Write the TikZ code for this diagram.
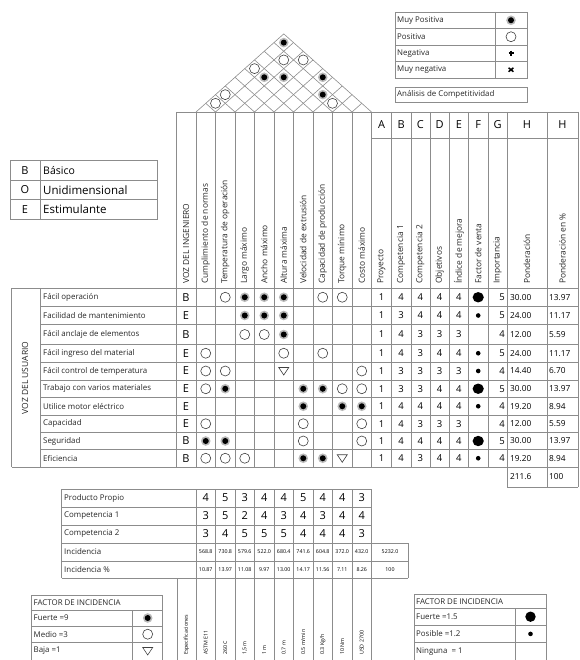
\documentclass[tikz,border=0pt]{standalone}
\usepackage{fontspec}
\setmainfont{Open Sans}
\begin{document}
\begin{tikzpicture}[x=1pt,y=-1pt]
\tikzset{
  ln/.style={draw=gray!90, line width=0.6pt},
  lab/.style={inner sep=0pt, font=\fontsize{7.9}{9}\selectfont, text=black!85},
  hlab/.style={lab, rotate=90, anchor=west, font=\fontsize{8.4}{9}\selectfont},
  tbig/.style={inner sep=0pt, font=\fontsize{11}{12}\selectfont},
  tnum/.style={inner sep=0pt, font=\fontsize{9.5}{11}\selectfont},
  tmid/.style={inner sep=0pt, font=\fontsize{8.3}{10}\selectfont},
  ttiny/.style={inner sep=0pt, font=\fontsize{5.3}{6}\selectfont},
  strong/.pic={\fill[gray!55] (0,0) circle (4.8pt); \fill[black] (0,0) circle (3pt);},
  medium/.pic={\draw[gray!50!black, line width=0.6pt] (0,0) circle (5pt);},
  weak/.pic={\draw[gray!50!black, line width=0.6pt] (-5,-3.5) -- (5,-3.5) -- (0,4) -- cycle;},
}
\useasboundingbox (0,0) rectangle (579,660);

% ---------- roof ----------
\foreach \k in {0,...,9} {
  \pgfmathsetmacro\xk{196+19.5*\k}
  \pgfmathsetmacro\xr{(\xk+371.5)/2}
  \pgfmathsetmacro\yr{112-0.89*(371.5-\xk)/2}
  \pgfmathsetmacro\xl{(196+\xk)/2}
  \pgfmathsetmacro\yl{112-0.89*(\xk-196)/2}
  \draw[ln] (\xl,\yl) -- (\xk,112) -- (\xr,\yr);
}
\foreach \i/\j/\t in {1/9/strong,2/8/medium,3/9/medium,1/6/medium,2/6/strong,3/7/strong,5/9/strong,6/8/strong,7/8/medium,1/3/medium,1/2/medium} {
  \pgfmathsetmacro\xx{196+19.5*((\i+\j)/2-0.5)}
  \pgfmathsetmacro\yy{112-(\j-\i)*0.89*19.5/2}
  \pic at (\xx,\yy) {\t};
}

% ---------- top right legend ----------
\draw[ln] (395,12) rectangle (527,78);
\draw[ln] (395,28.5) -- (527,28.5) (395,45) -- (527,45) (395,61.5) -- (527,61.5) (495,12) -- (495,78);
\node[lab, anchor=west] (lg1) at (397,20.25) {Muy Positiva};
\node[lab, anchor=west] (lg2) at (397,36.75) {Positiva};
\node[lab, anchor=west] (lg3) at (397,53.25) {Negativa};
\node[lab, anchor=west] (lg4) at (397,69.75) {Muy negativa};
\pic at (511,20.25) {strong};
\pic at (511,36.75) {medium};
\draw[line width=1.6pt] (508.5,53.25) -- (513.5,53.25) (511,50.75) -- (511,55.75);
\draw[line width=1.5pt] (508.6,67.8) -- (513.4,71.7) (508.6,71.7) -- (513.4,67.8);
\draw[ln] (395,87) rectangle (527,102);
\node[lab, anchor=west] (lg5) at (397,94.5) {Análisis de Competitividad};

% ---------- left legend ----------
\draw[ln] (10,160.7) rectangle (157,219);
\draw[ln] (10,180) -- (157,180) (10,199.3) -- (157,199.3) (40,160.7) -- (40,219);
\node[tbig] (kb) at (25,170.3) {B};
\node[tbig] (ko) at (25,189.7) {O};
\node[tbig] (ke) at (25,209.1) {E};
\node[tbig, anchor=west, font=\fontsize{10.5}{12}\selectfont] (kbt) at (43,170.3) {Básico};
\node[tbig, anchor=west, font=\fontsize{11.5}{12}\selectfont] (kot) at (43,189.7) {Unidimensional};
\node[tbig, anchor=west, font=\fontsize{11.5}{12}\selectfont] (ket) at (43,209.1) {Estimulante};

% ---------- grid of the house ----------
\draw[ln] (176,112) -- (578.3,112);
\draw[ln] (371.5,138) -- (578.3,138);
\foreach \x in {176,196,215.5,235,254.5,274,293.5,313,332.5,352,371.5,391.5,410.8,430,449.3,468.5,488}
  \draw[ln] (\x,112) -- (\x,467);
\foreach \x in {507.3,546.8,578.3}
  \draw[ln] (\x,112) -- (\x,487);
\draw[ln] (507.3,487) -- (578.3,487);
\draw[ln] (11.7,288) -- (578.3,288);
\draw[ln] (11.7,467) -- (578.3,467);
\foreach \y in {306.5,324.5,344.5,362,380,397.5,415,432.5,449.5}
  \draw[ln] (40,\y) -- (578.3,\y);
\draw[ln] (11.7,288) -- (11.7,467);
\draw[ln] (40,288) -- (40,467);

% ---------- header labels ----------
\node[hlab] (hv) at (186,284) {VOZ DEL INGENIERO};
\foreach \t [count=\i] in {Cumplimiento de normas,Temperatura de operación,Largo máximo,Ancho máximo,Altura máxima,Velocidad de extrusión,Capacidad de producción,Torque mínimo,Costo máximo} {
  \pgfmathsetmacro\xx{196+19.5*(\i-0.5)}
  \node[hlab] (he\i) at (\xx,284) {\t};
}
\foreach \x/\l/\t [count=\i] in {381.5/A/Proyecto,401.1/B/Competencia 1,420.4/C/Competencia 2,439.6/D/Objetivos,458.9/E/Índice de mejora,478.2/F/Factor de venta,497.6/G/Importancia,527/H/Ponderación,562.5/H/Ponderación en \%} {
  \node[tbig] (hl\i) at (\x,125) {\l};
  \node[hlab] (hr\i) at (\x,284) {\t};
}

% ---------- voice of customer ----------
\node[lab, rotate=90, font=\fontsize{8.5}{10}\selectfont] (vu) at (25,378) {VOZ DEL USUARIO};
\foreach \yc/\lab/\k/\a/\b/\c/\d/\e/\g/\h/\hp [count=\i] in {
297.25/Fácil operación/B/1/4/4/4/4/5/30.00/13.97,
315.5/Facilidad de mantenimiento/E/1/3/4/4/4/5/24.00/11.17,
334.5/Fácil anclaje de elementos/B/1/4/3/3/3/4/12.00/5.59,
353.25/Fácil ingreso del material/E/1/4/3/4/4/5/24.00/11.17,
371/Fácil control de temperatura/E/1/3/3/3/3/4/14.40/6.70,
388.75/Trabajo con varios materiales/E/1/3/3/4/4/5/30.00/13.97,
406.25/Utilice motor eléctrico/E/1/4/4/4/4/4/19.20/8.94,
423.75/Capacidad/E/1/4/3/3/3/4/12.00/5.59,
441/Seguridad/B/1/4/4/4/4/5/30.00/13.97,
458.25/Eficiencia/B/1/4/3/4/4/4/19.20/8.94} {
  \node[lab, anchor=west] (rl\i) at (43,\yc) {\lab};
  \node[tbig] (rk\i) at (186,\yc) {\k};
  \node[tnum] (ra\i) at (381.5,\yc) {\a};
  \node[tnum] (rb\i) at (401.1,\yc) {\b};
  \node[tnum] (rc\i) at (420.4,\yc) {\c};
  \node[tnum] (rd\i) at (439.6,\yc) {\d};
  \node[tnum] (re\i) at (458.9,\yc) {\e};
  \node[tnum, anchor=east] (rg\i) at (505,\yc) {\g};
  \node[tmid, anchor=west] (rh\i) at (510,\yc) {\h};
  \node[tmid, anchor=west] (rp\i) at (549,\yc) {\hp};
}
\node[tmid, anchor=west] (tot1) at (510,477) {211.6};
\node[tmid, anchor=west] (tot2) at (549,477) {100};
% factor de venta dots
\foreach \yc in {297.25,388.75,441} \fill (478.2,\yc) ellipse (5.6pt and 5.2pt);
\foreach \yc in {315.5,353.25,371,406.25,458.25} \fill (478.2,\yc) circle (2.3pt);

% ---------- relationship matrix ----------
\def\rowy{{297.25,315.5,334.5,353.25,371,388.75,406.25,423.75,441,458.25}}
\foreach \r/\c/\t in {1/2/medium,1/3/strong,1/4/strong,1/5/strong,1/7/medium,1/8/medium,
  2/3/strong,2/4/strong,2/5/strong,
  3/3/medium,3/4/medium,3/5/strong,
  4/1/medium,4/5/medium,4/7/medium,
  5/1/medium,5/2/medium,5/5/weak,5/9/medium,
  6/1/medium,6/2/strong,6/6/strong,6/7/strong,6/8/medium,6/9/medium,
  7/6/strong,7/8/strong,7/9/strong,
  8/1/medium,8/6/medium,8/9/medium,
  9/1/strong,9/2/strong,9/6/medium,9/9/medium,
  10/1/medium,10/2/medium,10/3/medium,10/6/strong,10/7/strong,10/8/weak} {
  \pgfmathsetmacro\yy{\rowy[\r-1]}
  \pgfmathsetmacro\xx{196+19.5*(\c-0.5)}
  \pic at (\xx,\yy) {\t};
}

% ---------- bottom table ----------
\foreach \y in {489,507,525} \draw[ln] (61.7,\y) -- (371.5,\y);
\foreach \y in {543,561,578} \draw[ln] (61.7,\y) -- (408,\y);
\draw[ln] (61.7,489) -- (61.7,578);
\foreach \x in {196,215.5,235,254.5,274,293.5,313,332.5,352,371.5} \draw[ln] (\x,489) -- (\x,578);
\draw[ln] (408,543) -- (408,578);
\node[lab, anchor=west] (bp) at (64,498) {Producto Propio};
\node[lab, anchor=west] (bc1) at (64,516) {Competencia 1};
\node[lab, anchor=west] (bc2) at (64,534) {Competencia 2};
\node[lab, anchor=west] (bi) at (64,552) {Incidencia};
\node[lab, anchor=west] (bip) at (64,569.5) {Incidencia \%};
\foreach \p/\q/\s/\u/\v [count=\i] in {4/3/3/568.8/10.87,5/5/4/730.8/13.97,3/2/5/579.6/11.08,4/4/5/522.0/9.97,4/3/5/680.4/13.00,5/4/4/741.6/14.17,4/3/4/604.8/11.56,4/4/4/372.0/7.11,3/4/3/432.0/8.26} {
  \pgfmathsetmacro\xx{196+19.5*(\i-0.5)}
  \node[tbig] (bp\i) at (\xx,498) {\p};
  \node[tbig] (bq\i) at (\xx,516) {\q};
  \node[tbig] (bs\i) at (\xx,534) {\s};
  \node[ttiny] (bu\i) at (\xx,552) {\u};
  \node[ttiny] (bv\i) at (\xx,569.5) {\v};
}
\node[ttiny] (btot) at (390,552) {5232.0};
\node[ttiny] (bpct) at (390,569.5) {100};

% ---------- specifications ----------
\foreach \x in {177,196,215.5,235,254.5,274,293.5,313,332.5,352,371.5} \draw[ln] (\x,578) -- (\x,660);
\node[ttiny, rotate=90, anchor=west] (sp0) at (186.5,655) {Especificaciones};
\foreach \t [count=\i] in {ASTM E11,260 C,{1,5 m},1 m,0.7 m,0.5 m/min,0.3 Kg/h,10 Nm,USD 2700} {
  \pgfmathsetmacro\xx{196+19.5*(\i-0.5)}
  \node[ttiny, rotate=90, anchor=west] (sp\i) at (\xx,655) {\t};
}

% ---------- bottom left legend ----------
\draw[ln] (31.7,660) -- (31.7,595) -- (162.7,595) -- (162.7,660);
\draw[ln] (31.7,610) -- (162.7,610) (31.7,626) -- (162.7,626) (31.7,642.5) -- (162.7,642.5) (132.7,610) -- (132.7,660);
\node[lab, anchor=west] (fl0) at (33.5,602.5) {FACTOR DE INCIDENCIA};
\node[lab, anchor=west] (fl1) at (33.5,618) {Fuerte =9};
\node[lab, anchor=west] (fl2) at (33.5,634.2) {Medio =3};
\node[lab, anchor=west] (fl3) at (33.5,651) {Baja =1};
\pic at (147.7,618) {strong};
\pic at (147.7,634.2) {medium};
\pic at (147.7,651) {weak};

% ---------- bottom right legend ----------
\draw[ln] (414,660) -- (414,594) -- (546,594) -- (546,660);
\draw[ln] (414,608.3) -- (546,608.3) (414,625) -- (546,625) (414,642.7) -- (546,642.7) (515,608.3) -- (515,660);
\node[lab, anchor=west] (fr0) at (416,601.2) {FACTOR DE INCIDENCIA};
\node[lab, anchor=west] (fr1) at (416,616.7) {Fuerte =1.5};
\node[lab, anchor=west] (fr2) at (416,633.9) {Posible =1.2};
\node[lab, anchor=west] (fr3) at (416,651.3) {Ninguna~ = 1};
\fill (530.5,616.7) circle (5.2pt);
\fill (530.5,633.9) circle (2.3pt);
\end{tikzpicture}
\end{document}
